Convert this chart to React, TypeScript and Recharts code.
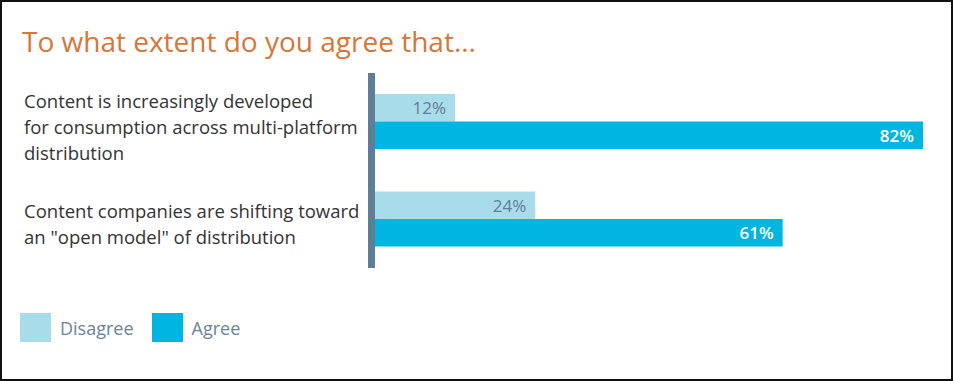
import React from "react";
import { BarChart, Bar, XAxis, YAxis, Legend, LabelList } from "recharts";

const categories = [
  "Content is increasingly developed\nfor consumption across multi-platform\ndistribution",
  "Content companies are shifting toward\nan \"open model\" of distribution",
];
const disagree = [12, 24];
const agree = [82, 61];
const seriesOrder = ["Disagree", "Agree"];
const title = "To what extent do you agree that...";

const data = categories.map((name, i) => ({ name, Disagree: disagree[i], Agree: agree[i] }));

const FONT = "'Open Sans', sans-serif";
const DISAGREE_COLOR = "#A9DCEB";
const AGREE_COLOR = "#00B6E0";
const AXIS_COLOR = "#5E7D96";

const CategoryTick = (props: any) => {
  const { y, payload } = props;
  const lines = String(payload.value).split("\n");
  const lh = 26;
  const start = y - ((lines.length - 1) * lh) / 2 + 12;
  return (
    <text x={24} y={start} fill="#333" fontSize={18.5} fontFamily={FONT} textAnchor="start">
      {lines.map((l, i) => (
        <tspan key={i} x={24} y={start + i * lh}>
          {l}
        </tspan>
      ))}
    </text>
  );
};

const makeLabel = (color: string, weight: number) => (props: any) => {
  const { x, y, width, height, value } = props;
  return (
    <text
      x={x + width - 9}
      y={y + height / 2}
      fill={color}
      fontSize={17}
      fontWeight={weight}
      fontFamily={FONT}
      textAnchor="end"
      dominantBaseline="central"
    >
      {value}%
    </text>
  );
};

const LegendContent = (props: any) => {
  const payload = [...(props.payload || [])].sort(
    (a: any, b: any) => seriesOrder.indexOf(a.value) - seriesOrder.indexOf(b.value)
  );
  return (
    <div style={{ display: "flex", alignItems: "center" }}>
      {payload.map((p: any, i: number) => (
        <div key={i} style={{ display: "flex", alignItems: "center", marginRight: 18 }}>
          <div style={{ width: 31, height: 29, background: p.color, marginRight: 9 }} />
          <span style={{ fontFamily: FONT, fontSize: 18, color: "#6A8499" }}>{p.value}</span>
        </div>
      ))}
    </div>
  );
};

export default function App() {
  return (
    <div
      style={{
        position: "absolute",
        left: 0,
        top: 0,
        width: 953,
        height: 381,
        background: "#fff",
        border: "2px solid #111",
        boxSizing: "border-box",
        overflow: "hidden",
      }}
    >
      <div
        style={{
          position: "absolute",
          left: 20,
          top: 20,
          fontFamily: FONT,
          fontSize: 28,
          color: "#D4773A",
          lineHeight: "38px",
          whiteSpace: "nowrap",
        }}
      >
        {title}
      </div>
      <div style={{ position: "absolute", left: -2, top: -2 }}>
        <BarChart
          width={953}
          height={381}
          data={data}
          layout="vertical"
          margin={{ top: 73, right: 30, bottom: 84, left: 0 }}
          barGap={0}
          barSize={27.5}
        >
          <XAxis type="number" domain={[-0.5, 82]} hide allowDataOverflow />
          <YAxis
            type="category"
            dataKey="name"
            width={371.5}
            axisLine={{ stroke: AXIS_COLOR, strokeWidth: 7 }}
            tickLine={false}
            tick={<CategoryTick />}
            interval={0}
          />
          <Legend
            content={<LegendContent />}
            wrapperStyle={{ position: "absolute", left: 20, top: 313, width: 400 }}
          />
          <Bar dataKey="Disagree" fill={DISAGREE_COLOR} isAnimationActive={false}>
            <LabelList dataKey="Disagree" content={makeLabel("#5E7D96", 400)} />
          </Bar>
          <Bar dataKey="Agree" fill={AGREE_COLOR} isAnimationActive={false}>
            <LabelList dataKey="Agree" content={makeLabel("#ffffff", 600)} />
          </Bar>
        </BarChart>
      </div>
    </div>
  );
}
